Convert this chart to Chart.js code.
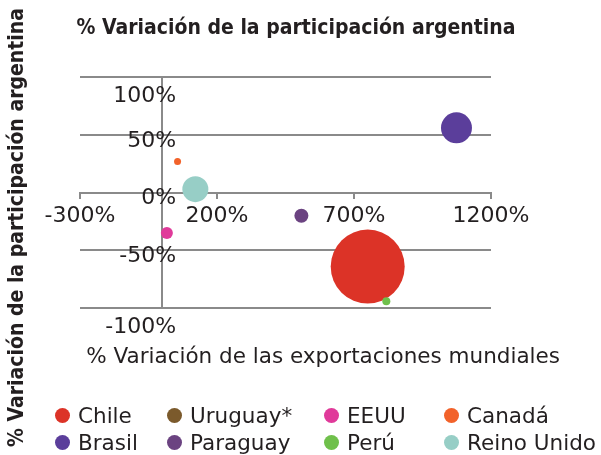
<!DOCTYPE html>
<html><head><meta charset="utf-8">
<script src="https://cdn.jsdelivr.net/npm/chart.js@4"></script>
<style>
html,body{margin:0;padding:0;background:#fff;}
#wrap{position:relative;width:601px;height:455px;overflow:hidden;}
#c{position:absolute;left:0;top:0;}
#legend{position:absolute;left:55px;top:402px;display:grid;grid-template-columns:112px 157px 120px auto;grid-auto-rows:27px;font-family:"DejaVu Sans",sans-serif;font-size:21.5px;color:#231f20;}
.item{display:flex;align-items:center;white-space:nowrap;}
.dot{width:15px;height:15px;border-radius:50%;margin-right:8px;flex:none;}
</style></head><body>
<div id="wrap"><canvas id="c" width="601" height="455"></canvas><div id="legend"></div></div>
<script>
const countries = ['Chile', 'Uruguay*', 'EEUU', 'Canadá', 'Brasil', 'Paraguay', 'Perú', 'Reino Unido'];
const exportChange = [750, null, 17, 56, 1074, 508, 818, 121];
const shareChange = [-64, null, -35, 27, 56, -20, -94, 3];
const bubbleRadius = [37, null, 6, 3.5, 15.5, 7, 4, 13];
const colors = ['#dc3327', '#7b5a2c', '#e03a9a', '#f2622a', '#5b3e9b', '#6b4381', '#6fc04b', '#97cec6'];
const xTickValues = [-300, 200, 700, 1200];
const yTickValues = [-100, -50, 0, 50, 100];
const titleText = '% Variación de la participación argentina';
const xTitleText = '% Variación de las exportaciones mundiales';

const TXT = '#231f20';
const GRID = '#8a8a8a';
const NARROW = '"Liberation Sans Narrow", "DejaVu Sans Condensed", "Liberation Sans", sans-serif';
const SANS = '"DejaVu Sans", sans-serif';
const tickFont = {family: SANS, size: 22};

const datasets = countries.map((name, i) => ({
  label: name,
  data: exportChange[i] == null ? [] : [{x: exportChange[i], y: shareChange[i], r: bubbleRadius[i]}],
  backgroundColor: colors[i],
  borderWidth: 0,
  order: bubbleRadius[i] == null ? 0 : bubbleRadius[i],
  xAxisID: 'x',
  yAxisID: 'y'
}));

const chart = new Chart(document.getElementById('c'), {
  type: 'bubble',
  data: {datasets},
  options: {
    responsive: false,
    animation: false,
    devicePixelRatio: 1,
    events: [],
    layout: {padding: {left: 32, right: 41, top: 0, bottom: 0}},
    plugins: {
      legend: {display: false},
      tooltip: {enabled: false},
      title: {
        display: true, text: titleText, align: 'center', color: TXT,
        font: {family: NARROW, size: 21, weight: 'bold', lineHeight: 1.2},
        padding: {top: 16.4, bottom: 35.4}
      },
      subtitle: {
        display: true, position: 'bottom', align: 'end', text: xTitleText, color: TXT,
        font: {family: SANS, size: 21.5, lineHeight: 1.2},
        padding: {top: 36, bottom: 85}
      }
    },
    scales: {
      x: {
        type: 'linear', min: -300, max: 1200, position: {y: 0},
        afterBuildTicks: s => { s.ticks = xTickValues.map(v => ({value: v})); },
        grid: {display: true, drawOnChartArea: false, drawTicks: true, tickLength: 5, color: GRID, lineWidth: 2},
        border: {display: true, color: GRID, width: 2},
        ticks: {color: TXT, font: tickFont, padding: 5, maxRotation: 0, autoSkip: false, callback: v => v + '%'}
      },
      y: {
        type: 'linear', min: -100, max: 100, position: {x: 0},
        afterBuildTicks: s => { s.ticks = yTickValues.map(v => ({value: v})); },
        grid: {color: GRID, lineWidth: 2, drawTicks: false},
        border: {display: true, color: GRID, width: 2},
        ticks: {display: false}
      },
      yLabels: {
        type: 'linear', min: -100, max: 100, position: {x: 51},
        afterBuildTicks: s => { s.ticks = yTickValues.map(v => ({value: v})); },
        grid: {display: false},
        border: {display: false},
        ticks: {color: TXT, font: tickFont, padding: 0, labelOffset: 6,
          callback: v => Math.abs(v) === 100 ? ['', v + '%'] : v + '%'}
      },
      yt: {
        type: 'linear', position: 'left', fullSize: true,
        afterFit: s => { s.width = 48; },
        ticks: {display: false}, grid: {display: false}, border: {display: false},
        title: {display: true, text: titleText, color: TXT,
          font: {family: NARROW, size: 21, weight: 'bold', lineHeight: 1.2},
          padding: {top: -26.6, bottom: 0}}
      },
      yr: {
        type: 'linear', position: 'right',
        afterFit: s => { s.width = 69; },
        ticks: {display: false}, grid: {display: false}, border: {display: false}
      }
    }
  }
});

const legendEl = document.getElementById('legend');
chart.data.datasets.forEach(ds => {
  const item = document.createElement('div');
  item.className = 'item';
  const dot = document.createElement('span');
  dot.className = 'dot';
  dot.style.background = ds.backgroundColor;
  const label = document.createElement('span');
  label.textContent = ds.label;
  item.appendChild(dot);
  item.appendChild(label);
  legendEl.appendChild(item);
});
</script>
</body></html>
